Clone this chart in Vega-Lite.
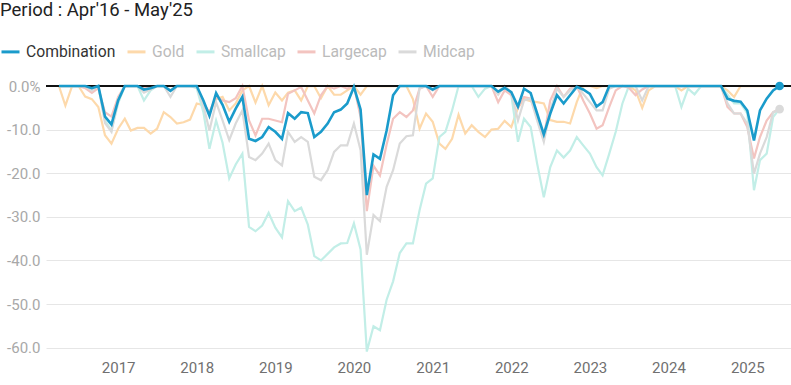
{
  "$schema": "https://vega.github.io/schema/vega-lite/v6.json",
  "width": 745,
  "height": 276,
  "autosize": {"type": "none"},
  "padding": {"left": 46, "top": 76, "right": 0, "bottom": 33},
  "background": "white",
  "config": {"font": "Roboto", "view": {"stroke": null}},
  "title": {"text": "Period : Apr'16 - May'25", "anchor": "start", "frame": "group", "fontSize": 18.5, "fontWeight": "normal", "color": "#222222", "dx": -46, "offset": 22},
  "data": {"values": [
    {"d":"2016-04-01","Combination":0,"Gold":0,"Smallcap":0,"Largecap":0,"Midcap":0},
    {"d":"2016-05-01","Combination":0,"Gold":-4.5,"Smallcap":0,"Largecap":0,"Midcap":0},
    {"d":"2016-06-01","Combination":0,"Gold":0,"Smallcap":0,"Largecap":0,"Midcap":0},
    {"d":"2016-07-01","Combination":0,"Gold":0,"Smallcap":0,"Largecap":0,"Midcap":0},
    {"d":"2016-08-01","Combination":0,"Gold":-2.4,"Smallcap":0,"Largecap":-0.5,"Midcap":0},
    {"d":"2016-09-01","Combination":-0.5,"Gold":-3,"Smallcap":-1,"Largecap":-1.6,"Midcap":-1},
    {"d":"2016-10-01","Combination":0,"Gold":-4.8,"Smallcap":0,"Largecap":-0.5,"Midcap":0},
    {"d":"2016-11-01","Combination":-7,"Gold":-11.3,"Smallcap":-7.9,"Largecap":-6,"Midcap":-8.5},
    {"d":"2016-12-01","Combination":-8.8,"Gold":-13.2,"Smallcap":-10.2,"Largecap":-7,"Midcap":-10.5},
    {"d":"2017-01-01","Combination":-3.3,"Gold":-9.8,"Smallcap":-4,"Largecap":-2.5,"Midcap":-3},
    {"d":"2017-02-01","Combination":0,"Gold":-7.5,"Smallcap":0,"Largecap":0,"Midcap":0},
    {"d":"2017-03-01","Combination":0,"Gold":-10.2,"Smallcap":0,"Largecap":0,"Midcap":0},
    {"d":"2017-04-01","Combination":0,"Gold":-9.6,"Smallcap":0,"Largecap":0,"Midcap":0},
    {"d":"2017-05-01","Combination":-0.8,"Gold":-9.6,"Smallcap":-3.3,"Largecap":-0.5,"Midcap":-1.5},
    {"d":"2017-06-01","Combination":-0.5,"Gold":-10.9,"Smallcap":-1,"Largecap":-0.3,"Midcap":-0.8},
    {"d":"2017-07-01","Combination":0,"Gold":-9.8,"Smallcap":0,"Largecap":0,"Midcap":0},
    {"d":"2017-08-01","Combination":0,"Gold":-6,"Smallcap":0,"Largecap":0,"Midcap":0},
    {"d":"2017-09-01","Combination":-1.1,"Gold":-7.1,"Smallcap":-1,"Largecap":-1,"Midcap":-2.5},
    {"d":"2017-10-01","Combination":0,"Gold":-8.6,"Smallcap":0,"Largecap":0,"Midcap":0},
    {"d":"2017-11-01","Combination":0,"Gold":-8.3,"Smallcap":0,"Largecap":0,"Midcap":0},
    {"d":"2017-12-01","Combination":0,"Gold":-7.7,"Smallcap":0,"Largecap":0,"Midcap":0},
    {"d":"2018-01-01","Combination":0,"Gold":-4,"Smallcap":-0.5,"Largecap":0,"Midcap":0},
    {"d":"2018-02-01","Combination":-3.3,"Gold":-4.4,"Smallcap":-6,"Largecap":-4,"Midcap":-4.5},
    {"d":"2018-03-01","Combination":-6.8,"Gold":-6,"Smallcap":-14.4,"Largecap":-6,"Midcap":-10.2},
    {"d":"2018-04-01","Combination":-1.6,"Gold":-3,"Smallcap":-7.9,"Largecap":-2.5,"Midcap":-3.7},
    {"d":"2018-05-01","Combination":-4.3,"Gold":-2.5,"Smallcap":-13,"Largecap":-3.3,"Midcap":-7.9},
    {"d":"2018-06-01","Combination":-8.2,"Gold":-5.6,"Smallcap":-21.2,"Largecap":-3.7,"Midcap":-12.4},
    {"d":"2018-07-01","Combination":-5.2,"Gold":-4,"Smallcap":-18,"Largecap":-2.8,"Midcap":-8.6},
    {"d":"2018-08-01","Combination":-2.5,"Gold":-1,"Smallcap":-15.5,"Largecap":0,"Midcap":-5.6},
    {"d":"2018-09-01","Combination":-12.1,"Gold":0,"Smallcap":-32.3,"Largecap":-7.9,"Midcap":-16.3},
    {"d":"2018-10-01","Combination":-12.6,"Gold":-3.8,"Smallcap":-33.3,"Largecap":-11.3,"Midcap":-17},
    {"d":"2018-11-01","Combination":-11.7,"Gold":0,"Smallcap":-32,"Largecap":-7.5,"Midcap":-15.5},
    {"d":"2018-12-01","Combination":-9.4,"Gold":-4.4,"Smallcap":-29.1,"Largecap":-7.5,"Midcap":-13.2},
    {"d":"2019-01-01","Combination":-10.5,"Gold":-1.5,"Smallcap":-32.5,"Largecap":-7.9,"Midcap":-17},
    {"d":"2019-02-01","Combination":-12.1,"Gold":-3.3,"Smallcap":-34.7,"Largecap":-8.3,"Midcap":-18.2},
    {"d":"2019-03-01","Combination":-6.2,"Gold":-1.5,"Smallcap":-26.4,"Largecap":-1.8,"Midcap":-10.5},
    {"d":"2019-04-01","Combination":-7.5,"Gold":-1,"Smallcap":-28.7,"Largecap":-1,"Midcap":-12.8},
    {"d":"2019-05-01","Combination":-6,"Gold":-3.3,"Smallcap":-27.9,"Largecap":-0.2,"Midcap":-11.7},
    {"d":"2019-06-01","Combination":-6.2,"Gold":0,"Smallcap":-31.8,"Largecap":-3.3,"Midcap":-12.8},
    {"d":"2019-07-01","Combination":-11.7,"Gold":0,"Smallcap":-39,"Largecap":-6.3,"Midcap":-20.8},
    {"d":"2019-08-01","Combination":-10.5,"Gold":-2.8,"Smallcap":-40,"Largecap":-2.1,"Midcap":-21.6},
    {"d":"2019-09-01","Combination":-8.6,"Gold":0,"Smallcap":-38.5,"Largecap":0,"Midcap":-19.3},
    {"d":"2019-10-01","Combination":-6,"Gold":-2,"Smallcap":-37,"Largecap":-0.6,"Midcap":-15.1},
    {"d":"2019-11-01","Combination":-5.4,"Gold":-2,"Smallcap":-36.1,"Largecap":0,"Midcap":-13.6},
    {"d":"2019-12-01","Combination":-4,"Gold":-1,"Smallcap":-36,"Largecap":-0.6,"Midcap":-13.6},
    {"d":"2020-01-01","Combination":-0.2,"Gold":0,"Smallcap":-31.5,"Largecap":0,"Midcap":-8.6},
    {"d":"2020-02-01","Combination":-5.4,"Gold":-2,"Smallcap":-37.5,"Largecap":-7.1,"Midcap":-14.7},
    {"d":"2020-03-01","Combination":-25,"Gold":0,"Smallcap":-60.9,"Largecap":-28.7,"Midcap":-38.7},
    {"d":"2020-04-01","Combination":-15.7,"Gold":0,"Smallcap":-55.1,"Largecap":-18.3,"Midcap":-29.6},
    {"d":"2020-05-01","Combination":-16.7,"Gold":0,"Smallcap":-56,"Largecap":-20.5,"Midcap":-31},
    {"d":"2020-06-01","Combination":-10.2,"Gold":0,"Smallcap":-49,"Largecap":-13.4,"Midcap":-23.1},
    {"d":"2020-07-01","Combination":-2.1,"Gold":0,"Smallcap":-44.8,"Largecap":-7.5,"Midcap":-19.3},
    {"d":"2020-08-01","Combination":0,"Gold":0,"Smallcap":-38.3,"Largecap":-6,"Midcap":-13.2},
    {"d":"2020-09-01","Combination":0,"Gold":0,"Smallcap":-36.1,"Largecap":-7.1,"Midcap":-11.5},
    {"d":"2020-10-01","Combination":0,"Gold":-3,"Smallcap":-36.1,"Largecap":-5.6,"Midcap":-11.3},
    {"d":"2020-11-01","Combination":0,"Gold":-9.8,"Smallcap":-28.5,"Largecap":-0.6,"Midcap":-0.5},
    {"d":"2020-12-01","Combination":0,"Gold":-6.3,"Smallcap":-22.4,"Largecap":0,"Midcap":0},
    {"d":"2021-01-01","Combination":-0.8,"Gold":-8.2,"Smallcap":-21.2,"Largecap":-2.5,"Midcap":-1},
    {"d":"2021-02-01","Combination":0,"Gold":-13.2,"Smallcap":-11.7,"Largecap":0,"Midcap":0},
    {"d":"2021-03-01","Combination":0,"Gold":-14.4,"Smallcap":-10.5,"Largecap":0,"Midcap":0},
    {"d":"2021-04-01","Combination":0,"Gold":-12.1,"Smallcap":-5.6,"Largecap":0,"Midcap":0},
    {"d":"2021-05-01","Combination":0,"Gold":-6.6,"Smallcap":0,"Largecap":0,"Midcap":0},
    {"d":"2021-06-01","Combination":0,"Gold":-10.9,"Smallcap":0,"Largecap":0,"Midcap":0},
    {"d":"2021-07-01","Combination":0,"Gold":-9,"Smallcap":0,"Largecap":0,"Midcap":0},
    {"d":"2021-08-01","Combination":0,"Gold":-10.5,"Smallcap":-2.5,"Largecap":0,"Midcap":0},
    {"d":"2021-09-01","Combination":0,"Gold":-11.7,"Smallcap":-0.6,"Largecap":0,"Midcap":0},
    {"d":"2021-10-01","Combination":0,"Gold":-10,"Smallcap":0,"Largecap":0,"Midcap":0},
    {"d":"2021-11-01","Combination":-1.3,"Gold":-9.8,"Smallcap":-1.4,"Largecap":-3.7,"Midcap":-2},
    {"d":"2021-12-01","Combination":-0.4,"Gold":-8,"Smallcap":0,"Largecap":-1,"Midcap":0},
    {"d":"2022-01-01","Combination":-1.4,"Gold":-9.4,"Smallcap":-2,"Largecap":-2.1,"Midcap":-1.5},
    {"d":"2022-02-01","Combination":-4.7,"Gold":-5,"Smallcap":-12.8,"Largecap":-5,"Midcap":-7.9},
    {"d":"2022-03-01","Combination":-0.6,"Gold":-3,"Smallcap":-7.5,"Largecap":-2.5,"Midcap":-3.3},
    {"d":"2022-04-01","Combination":-1.6,"Gold":-3.5,"Smallcap":-9.4,"Largecap":-2.9,"Midcap":-2.9},
    {"d":"2022-05-01","Combination":-6.3,"Gold":-3.7,"Smallcap":-17.8,"Largecap":-7.1,"Midcap":-7.9},
    {"d":"2022-06-01","Combination":-11.1,"Gold":-4,"Smallcap":-25.5,"Largecap":-11.7,"Midcap":-12.8},
    {"d":"2022-07-01","Combination":-6.3,"Gold":-7.8,"Smallcap":-18.6,"Largecap":-3.3,"Midcap":-5.6},
    {"d":"2022-08-01","Combination":-2.1,"Gold":-8.2,"Smallcap":-14.8,"Largecap":0,"Midcap":-0.6},
    {"d":"2022-09-01","Combination":-4,"Gold":-8.2,"Smallcap":-16.4,"Largecap":-2.5,"Midcap":-2.5},
    {"d":"2022-10-01","Combination":-2.1,"Gold":-8.6,"Smallcap":-14.8,"Largecap":-0.6,"Midcap":-1},
    {"d":"2022-11-01","Combination":-0.2,"Gold":-3.7,"Smallcap":-11.7,"Largecap":0,"Midcap":0},
    {"d":"2022-12-01","Combination":-0.8,"Gold":0,"Smallcap":-13.6,"Largecap":-3.3,"Midcap":-1.8},
    {"d":"2023-01-01","Combination":-1.8,"Gold":0,"Smallcap":-15.5,"Largecap":-6.3,"Midcap":-3.7},
    {"d":"2023-02-01","Combination":-4.7,"Gold":-0.5,"Smallcap":-18.6,"Largecap":-9.8,"Midcap":-5.6},
    {"d":"2023-03-01","Combination":-3.7,"Gold":0,"Smallcap":-20.5,"Largecap":-9,"Midcap":-5.6},
    {"d":"2023-04-01","Combination":0,"Gold":0,"Smallcap":-15.5,"Largecap":-4.8,"Midcap":-0.6},
    {"d":"2023-05-01","Combination":0,"Gold":0,"Smallcap":-10.5,"Largecap":-1,"Midcap":0},
    {"d":"2023-06-01","Combination":0,"Gold":0,"Smallcap":-4,"Largecap":0,"Midcap":0},
    {"d":"2023-07-01","Combination":0,"Gold":0,"Smallcap":0,"Largecap":-0.4,"Midcap":0},
    {"d":"2023-08-01","Combination":0,"Gold":-1,"Smallcap":0,"Largecap":-2.1,"Midcap":0},
    {"d":"2023-09-01","Combination":0,"Gold":-5,"Smallcap":0,"Largecap":-0.8,"Midcap":-3.3},
    {"d":"2023-10-01","Combination":0,"Gold":-1,"Smallcap":0,"Largecap":0,"Midcap":0},
    {"d":"2023-11-01","Combination":0,"Gold":0,"Smallcap":0,"Largecap":0,"Midcap":0},
    {"d":"2023-12-01","Combination":0,"Gold":0,"Smallcap":0,"Largecap":0,"Midcap":0},
    {"d":"2024-01-01","Combination":0,"Gold":0,"Smallcap":0,"Largecap":0,"Midcap":0},
    {"d":"2024-02-01","Combination":0,"Gold":0,"Smallcap":0,"Largecap":0,"Midcap":0},
    {"d":"2024-03-01","Combination":0,"Gold":-1,"Smallcap":-4.8,"Largecap":0,"Midcap":0},
    {"d":"2024-04-01","Combination":0,"Gold":0,"Smallcap":-0.6,"Largecap":0,"Midcap":0},
    {"d":"2024-05-01","Combination":0,"Gold":0,"Smallcap":-1.9,"Largecap":0,"Midcap":0},
    {"d":"2024-06-01","Combination":0,"Gold":0,"Smallcap":0,"Largecap":0,"Midcap":0},
    {"d":"2024-07-01","Combination":0,"Gold":0,"Smallcap":0,"Largecap":0,"Midcap":0},
    {"d":"2024-08-01","Combination":0,"Gold":0,"Smallcap":0,"Largecap":0,"Midcap":0},
    {"d":"2024-09-01","Combination":0,"Gold":0,"Smallcap":0,"Largecap":0,"Midcap":0},
    {"d":"2024-10-01","Combination":-2.9,"Gold":-1,"Smallcap":-2,"Largecap":-4.8,"Midcap":-4},
    {"d":"2024-11-01","Combination":-3.4,"Gold":-2.5,"Smallcap":-4,"Largecap":-6.3,"Midcap":-6.3},
    {"d":"2024-12-01","Combination":-3.6,"Gold":0,"Smallcap":-4,"Largecap":-6.3,"Midcap":-6.3},
    {"d":"2025-01-01","Combination":-5.6,"Gold":0,"Smallcap":-6.3,"Largecap":-9.4,"Midcap":-8.6},
    {"d":"2025-02-01","Combination":-12.5,"Gold":0,"Smallcap":-23.9,"Largecap":-16.6,"Midcap":-20.1},
    {"d":"2025-03-01","Combination":-5.6,"Gold":0,"Smallcap":-17,"Largecap":-11.7,"Midcap":-15.5},
    {"d":"2025-04-01","Combination":-2.9,"Gold":0,"Smallcap":-15.5,"Largecap":-7.9,"Midcap":-11.7},
    {"d":"2025-05-01","Combination":-1,"Gold":0,"Smallcap":-7.1,"Largecap":-6,"Midcap":-6},
    {"d":"2025-05-31","Combination":0,"Gold":0,"Smallcap":-5.2,"Largecap":-5.3,"Midcap":-5.3}
  ]},
  "encoding": {
    "x": {
      "field": "d", "type": "temporal",
      "scale": {"type": "utc", "domain": [{"year": 2016, "month": 2, "date": 1, "utc": true}, {"year": 2025, "month": 7, "date": 23, "utc": true}]},
      "axis": {"title": null, "format": "%Y", "tickCount": {"interval": "year", "step": 1}, "grid": false, "ticks": false, "domain": false, "labelColor": "#707070", "labelFontSize": 15, "labelPadding": 8}
    },
    "y": {
      "field": "value", "type": "quantitative",
      "scale": {"domain": [-61, 2.3], "nice": false, "zero": false},
      "axis": {"title": null, "values": [0, -10, -20, -30, -40, -50, -60], "labelExpr": "datum.value == 0 ? '0.0%' : '-' + format(-datum.value, '.1f')", "ticks": false, "domain": false, "gridColor": "#e6e6e6", "labelColor": "#a8a8a8", "labelFontSize": 15, "labelPadding": 6}
    },
    "color": {
      "field": "series", "type": "nominal",
      "scale": {"domain": ["Combination", "Gold", "Smallcap", "Largecap", "Midcap"], "range": ["#1a9bcb", "#fdd9ab", "#c2eee7", "#f3c4c0", "#dadada"]},
      "legend": {"orient": "none", "legendX": -46, "legendY": -35, "direction": "horizontal", "title": null, "symbolType": "stroke", "symbolSize": 324, "symbolStrokeWidth": 3, "labelFontSize": 15.7, "labelOffset": 5, "columnPadding": 5, "padding": 0, "labelColor": {"expr": "datum.label === 'Combination' ? '#333333' : '#bbbbbb'"}}
    }
  },
  "layer": [
    {
      "transform": [{"fold": ["Combination", "Gold", "Smallcap", "Largecap", "Midcap"], "as": ["series", "value"]}, {"filter": "datum.series !== 'Combination'"}],
      "mark": {"type": "line", "strokeWidth": 2.2, "interpolate": "linear"}
    },
    {
      "data": {"values": [{"z": 0}]},
      "mark": {"type": "rule", "color": "#111111", "strokeWidth": 2},
      "encoding": {"x": null, "color": null, "y": {"field": "z", "type": "quantitative"}}
    },
    {
      "transform": [{"fold": ["Combination", "Gold", "Smallcap", "Largecap", "Midcap"], "as": ["series", "value"]}, {"filter": "datum.series === 'Combination'"}],
      "mark": {"type": "line", "strokeWidth": 2.6, "interpolate": "linear"}
    },
    {
      "transform": [{"fold": ["Combination", "Gold", "Smallcap", "Largecap", "Midcap"], "as": ["series", "value"]}, {"filter": "time(datum.d) > utc(2025, 4, 15)"}, {"filter": "datum.series === 'Combination' || datum.series === 'Midcap'"}],
      "mark": {"type": "point", "filled": true, "size": 75, "opacity": 1},
      "encoding": {"color": {"field": "series", "type": "nominal", "scale": {"domain": ["Combination", "Gold", "Smallcap", "Largecap", "Midcap"], "range": ["#1a9bcb", "#fdd9ab", "#c2eee7", "#f3c4c0", "#cfcfcf"]}, "legend": null}}
    }
  ]
}
